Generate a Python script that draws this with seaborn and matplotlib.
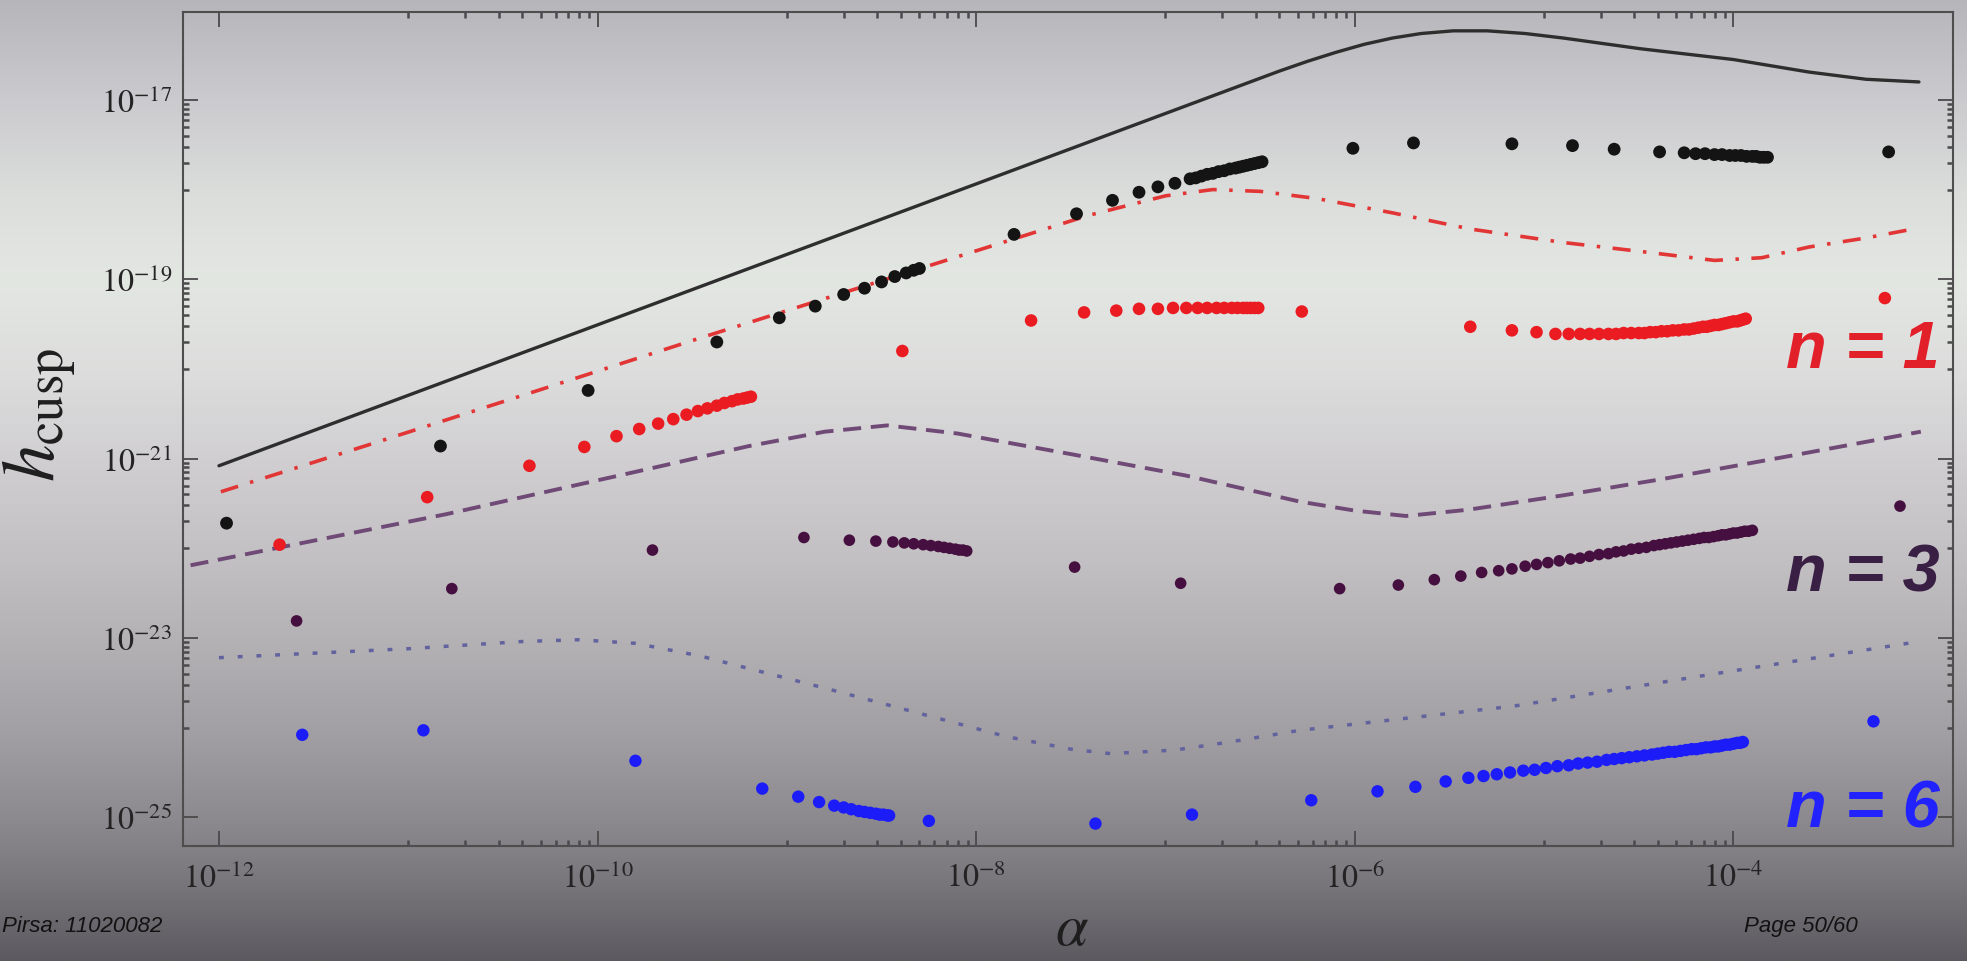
import numpy as np
import pandas as pd
import matplotlib
matplotlib.use("Agg")
import matplotlib.pyplot as plt
from matplotlib.ticker import FixedLocator, FuncFormatter, NullFormatter
import seaborn as sns

# ---------------- data: log10(alpha), log10(h_cusp) ----------------
# bound curves
solid_la = [-12.00, -6.40, -6.25, -6.10, -5.95, -5.80, -5.65, -5.48, -5.30, -5.10, -4.90, -4.49, -4.00,
            -3.60, -3.30, -3.02]
solid_lh = [-21.08, -16.68, -16.57, -16.47, -16.38, -16.31, -16.26, -16.23, -16.23, -16.26, -16.31, -16.43, -16.55,
            -16.69, -16.77, -16.80]

dashdot_la = [-11.99, -11.17, -10.30, -9.45, -8.40, -7.41, -7.00, -6.75, -6.50, -6.20, -5.80, -5.39, -4.90,
              -4.49, -4.10, -3.85, -3.60, -3.30, -3.05]
dashdot_lh = [-21.37, -20.82, -20.23, -19.65, -18.95, -18.29, -18.07, -18.00, -18.02, -18.10, -18.26, -18.44, -18.59,
              -18.69, -18.79, -18.76, -18.64, -18.54, -18.44]

dashed_la = [-12.15, -10.80, -9.72, -9.20, -8.80, -8.47, -8.10, -7.50, -6.89, -6.29, -6.00, -5.73, -5.40,
             -4.90, -4.38, -3.70, -3.01]
dashed_lh = [-22.19, -21.62, -21.11, -20.86, -20.70, -20.63, -20.72, -20.95, -21.19, -21.48, -21.58, -21.64, -21.57,
             -21.41, -21.23, -20.97, -20.70]

dotted_la = [-12.00, -11.00, -10.40, -10.10, -9.80, -9.46, -8.78, -7.84, -7.50, -7.29, -6.95, -6.66, -6.29,
             -5.16, -4.04, -3.02]
dotted_lh = [-23.22, -23.12, -23.04, -23.02, -23.06, -23.20, -23.57, -24.10, -24.24, -24.29, -24.25, -24.16, -24.03,
             -23.76, -23.38, -23.04]

# black points
black_la = [-11.96, -10.83, -10.05, -9.37, -9.04, -8.85, -8.70, -8.59, -8.50, -8.43, -8.37, -8.33, -8.30,
            -7.80, -7.47, -7.28, -7.14, -7.04, -6.95, -6.87, -6.84, -6.81, -6.78, -6.75, -6.72, -6.69, -6.66,
            -6.63, -6.61, -6.59, -6.57, -6.55, -6.53, -6.51, -6.49,
            -6.01, -5.69, -5.17, -4.85, -4.63, -4.39, -4.26, -4.20, -4.15, -4.10, -4.06, -4.02, -3.99, -3.96,
            -3.93, -3.90, -3.88, -3.86, -3.84, -3.82, -3.18]
black_lh = [-21.72, -20.86, -20.24, -19.70, -19.43, -19.30, -19.17, -19.10, -19.03, -18.97, -18.93, -18.90, -18.88,
            -18.50, -18.27, -18.12, -18.03, -17.97, -17.93, -17.88, -17.87, -17.85, -17.83, -17.82, -17.80, -17.79,
            -17.77, -17.76, -17.75, -17.74, -17.73, -17.72, -17.71, -17.70, -17.69,
            -17.54, -17.48, -17.49, -17.51, -17.55, -17.58, -17.59, -17.60, -17.60, -17.61, -17.61, -17.62,
            -17.62, -17.62, -17.63, -17.63, -17.63, -17.64, -17.64, -17.64, -17.58]

# n = 1 points
red_la = [-11.68, -10.90, -10.36, -10.07, -9.90, -9.78, -9.68, -9.60, -9.53, -9.47, -9.42, -9.37, -9.33, -9.29,
          -9.26, -9.23, -9.21, -9.19, -8.39,
          -7.71, -7.43, -7.26, -7.14, -7.04, -6.96, -6.89, -6.83, -6.78, -6.73, -6.69, -6.65, -6.62, -6.59,
          -6.57, -6.55, -6.53, -6.51, -6.28,
          -5.39, -5.17, -5.04, -4.94, -4.87, -4.81, -4.76, -4.71, -4.66, -4.62, -4.58, -4.54, -4.50, -4.47,
          -4.44, -4.41, -4.38, -4.35, -4.32, -4.29, -4.26, -4.235, -4.21, -4.185, -4.16, -4.14, -4.12, -4.10,
          -4.08, -4.06, -4.04, -4.02, -4.00, -3.98, -3.965, -3.95, -3.935, -3.20]
red_lh = [-21.96, -21.43, -21.08, -20.87, -20.75, -20.67, -20.61, -20.56, -20.51, -20.47, -20.44, -20.41, -20.38,
          -20.36, -20.34, -20.33, -20.32, -20.31, -19.80,
          -19.46, -19.37, -19.35, -19.33, -19.33, -19.32, -19.32, -19.32, -19.32, -19.32, -19.32, -19.32, -19.32,
          -19.32, -19.32, -19.32, -19.32, -19.32, -19.36,
          -19.53, -19.57, -19.59, -19.61, -19.61, -19.61, -19.61, -19.61, -19.61, -19.61, -19.60, -19.60, -19.60,
          -19.60, -19.59, -19.59, -19.58, -19.58, -19.57, -19.57, -19.56, -19.56, -19.55, -19.54, -19.53, -19.53,
          -19.52, -19.51, -19.51, -19.50, -19.49, -19.48, -19.47, -19.47, -19.46, -19.45, -19.44, -19.21]

# n = 3 points
plum_la = [-11.59, -10.77, -9.71, -8.91, -8.67, -8.53, -8.44, -8.38, -8.33, -8.28, -8.24, -8.20, -8.17, -8.14,
           -8.11, -8.09, -8.07, -8.05, -7.48, -6.92,
           -6.08, -5.77, -5.58, -5.44, -5.33, -5.24, -5.17, -5.10, -5.04, -4.98, -4.92, -4.86, -4.81, -4.76,
           -4.71, -4.66, -4.62, -4.58, -4.54, -4.50, -4.46, -4.42, -4.39, -4.36, -4.33, -4.30, -4.27, -4.24,
           -4.21, -4.18, -4.155, -4.13, -4.105, -4.08, -4.06, -4.04, -4.02, -4.00, -3.98, -3.96, -3.94, -3.92,
           -3.90, -3.12]
plum_lh = [-22.81, -22.45, -22.02, -21.88, -21.91, -21.92, -21.93, -21.94, -21.95, -21.96, -21.97, -21.98, -21.99,
           -22.00, -22.01, -22.02, -22.02, -22.03, -22.21, -22.39,
           -22.45, -22.41, -22.35, -22.31, -22.27, -22.25, -22.23, -22.20, -22.18, -22.16, -22.14, -22.12, -22.11,
           -22.09, -22.07, -22.06, -22.04, -22.03, -22.01, -22.00, -21.99, -21.97, -21.96, -21.95, -21.94, -21.93,
           -21.92, -21.91, -21.90, -21.89, -21.88, -21.88, -21.87, -21.86, -21.85, -21.85, -21.84, -21.83, -21.83,
           -21.82, -21.81, -21.81, -21.80, -21.53]

# n = 6 points
blue_la = [-11.56, -10.92, -9.80, -9.13, -8.94, -8.83, -8.75, -8.70, -8.66, -8.62, -8.59, -8.56, -8.53, -8.51,
           -8.49, -8.47, -8.46, -8.25, -7.37, -6.86,
           -6.23, -5.88, -5.68, -5.52, -5.40, -5.32, -5.25, -5.18, -5.11, -5.05, -4.99, -4.93, -4.87, -4.82,
           -4.77, -4.72, -4.67, -4.63, -4.59, -4.55, -4.51, -4.47, -4.43, -4.40, -4.37, -4.34, -4.31, -4.28,
           -4.25, -4.22, -4.195, -4.17, -4.145, -4.12, -4.10, -4.08, -4.06, -4.04, -4.02, -4.00, -3.98, -3.965,
           -3.95, -3.26]
blue_lh = [-24.08, -24.03, -24.37, -24.68, -24.77, -24.83, -24.87, -24.89, -24.91, -24.93, -24.94, -24.95, -24.96,
           -24.97, -24.97, -24.98, -24.98, -25.04, -25.07, -24.97,
           -24.81, -24.71, -24.66, -24.60, -24.56, -24.54, -24.52, -24.50, -24.48, -24.47, -24.45, -24.43, -24.42,
           -24.40, -24.39, -24.38, -24.36, -24.35, -24.34, -24.33, -24.32, -24.31, -24.30, -24.29, -24.28, -24.27,
           -24.27, -24.26, -24.25, -24.24, -24.24, -24.23, -24.22, -24.22, -24.21, -24.21, -24.20, -24.19, -24.19,
           -24.18, -24.17, -24.17, -24.16, -23.93]

x_major_exp = [-12, -10, -8, -6, -4]
y_major_exp = [-17, -19, -21, -23, -25]
x_minor_decades = [-11, -9, -7, -5]
y_minor_decades = [-18, -20, -22, -24]
series_labels = ["n = 1", "n = 3", "n = 6"]

# ---------------- style ----------------
sns.set_style("ticks")
plt.rcParams["font.family"] = ["Liberation Sans", "DejaVu Sans"]
plt.rcParams["mathtext.fontset"] = "stix"
plt.rcParams["lines.scale_dashes"] = False

W, H = 1967, 962
fig = plt.figure(figsize=(W / 100, H / 100), dpi=100)

# slide-photo background: vertical grey gradient
bg = fig.add_axes([0, 0, 1, 1], zorder=0)
stop_y = np.array([0, 100, 200, 280, 380, 470, 560, 650, 740, 820, 880, 962]) / H
stop_c = np.array([
    [0xb6, 0xb5, 0xba], [0xcb, 0xca, 0xce], [0xdc, 0xde, 0xdc], [0xe3, 0xe7, 0xe2],
    [0xdc, 0xdc, 0xdc], [0xcf, 0xcd, 0xd0], [0xc2, 0xc0, 0xc3], [0xb2, 0xb0, 0xb3],
    [0xa0, 0x9e, 0xa2], [0x8c, 0x8a, 0x8f], [0x7a, 0x77, 0x7d], [0x5c, 0x5a, 0x60]]) / 255.0
rows = np.linspace(0, 1, H)
grad = np.stack([np.interp(rows, stop_y, stop_c[:, k]) for k in range(3)], axis=-1)
bg.imshow(grad[:, None, :], aspect="auto", extent=[0, 1, 0, 1], origin="upper", interpolation="bilinear")
bg.set_axis_off()

ax = fig.add_axes([183 / W, 1 - 847 / H, (1953 - 183) / W, (847 - 13) / H], zorder=1)
ax.patch.set_alpha(0)
ax.set_xscale("log")
ax.set_yscale("log")


def frame(la, lh):
    return pd.DataFrame({"alpha": 10.0 ** np.asarray(la), "h": 10.0 ** np.asarray(lh)})


# bound curves
sns.lineplot(data=frame(solid_la, solid_lh), x="alpha", y="h", sort=False, estimator=None,
             color="#2e2e2e", lw=2.4, ax=ax, zorder=2)
sns.lineplot(data=frame(dashdot_la, dashdot_lh), x="alpha", y="h", sort=False, estimator=None,
             color="#e23636", lw=2.6, linestyle=(0, (13, 9, 2.5, 9)), ax=ax, zorder=2)
sns.lineplot(data=frame(dashed_la, dashed_lh), x="alpha", y="h", sort=False, estimator=None,
             color="#704a76", lw=2.8, linestyle=(0, (13, 7)), ax=ax, zorder=2)
sns.lineplot(data=frame(dotted_la, dotted_lh), x="alpha", y="h", sort=False, estimator=None,
             color="#62629e", lw=2.5, linestyle=(0, (3.5, 10)), ax=ax, zorder=2)

# scattered points
for la, lh, col, size in [(black_la, black_lh, "#141414", 85),
                          (red_la, red_lh, "#ea1c22", 82),
                          (plum_la, plum_lh, "#45103f", 70),
                          (blue_la, blue_lh, "#1c1cf8", 80)]:
    sns.scatterplot(data=frame(la, lh), x="alpha", y="h", color=col, s=size,
                    edgecolor="none", linewidth=0, ax=ax, zorder=3, legend=False)

ax.set_xlim(10 ** -12.19, 10 ** -2.84)
ax.set_ylim(10 ** -25.32, 10 ** -16.02)

# ticks
ax.xaxis.set_major_locator(FixedLocator([10.0 ** e for e in x_major_exp]))
ax.yaxis.set_major_locator(FixedLocator([10.0 ** e for e in y_major_exp]))
ax.xaxis.set_minor_locator(FixedLocator([k * 10.0 ** e for e in x_minor_decades for k in range(1, 10)]))
ax.yaxis.set_minor_locator(FixedLocator([k * 10.0 ** e for e in y_minor_decades for k in range(1, 10)]))
pow_fmt = FuncFormatter(lambda v, _: r"$10^{%d}$" % int(round(np.log10(v))))
ax.xaxis.set_major_formatter(pow_fmt)
ax.yaxis.set_major_formatter(pow_fmt)
ax.xaxis.set_minor_formatter(NullFormatter())
ax.yaxis.set_minor_formatter(NullFormatter())

ax.tick_params(which="major", direction="in", length=11, width=1.3, colors="#4a4a4a",
               labelcolor="#242424", labelsize=23, top=True, right=True)
ax.tick_params(which="minor", direction="in", length=4, width=1.8, colors="#4a4a4a", top=True, right=True)
ax.tick_params(axis="x", which="major", pad=12)
ax.tick_params(axis="y", which="major", pad=8)
for sp in ax.spines.values():
    sp.set_color("#4e4e4e")
    sp.set_linewidth(1.5)
    sp.set_visible(True)

ax.set_xlabel(r"$\alpha$", fontsize=42, color="#1e1e1e", va="center")
ax.xaxis.set_label_coords((1072 - 183) / (1953 - 183), (847 - 930) / (847 - 13))
ax.set_ylabel(r"$h_{\rm cusp}$", fontsize=54, color="#1e1e1e", va="center", ha="center")
ax.yaxis.set_label_coords((40 - 183) / (1953 - 183), (847 - 415) / (847 - 13))

# series annotations
for txt, base_y, col in zip(series_labels, [368, 592, 828], ["#e2202a", "#3a1f45", "#2222ff"]):
    fig.text(1940 / W, 1 - base_y / H, txt, ha="right", va="baseline", fontsize=48,
             style="italic", fontweight="bold", color=col, zorder=4)

# slide footer
fig.text(2 / W, 1 - 927 / H, "Pirsa: 11020082", ha="left", va="center", fontsize=16,
         style="italic", color="#121212")
fig.text(1858 / W, 1 - 927 / H, "Page 50/60", ha="right", va="center", fontsize=16,
         style="italic", color="#121212")

fig.savefig("out.png", dpi=100)
